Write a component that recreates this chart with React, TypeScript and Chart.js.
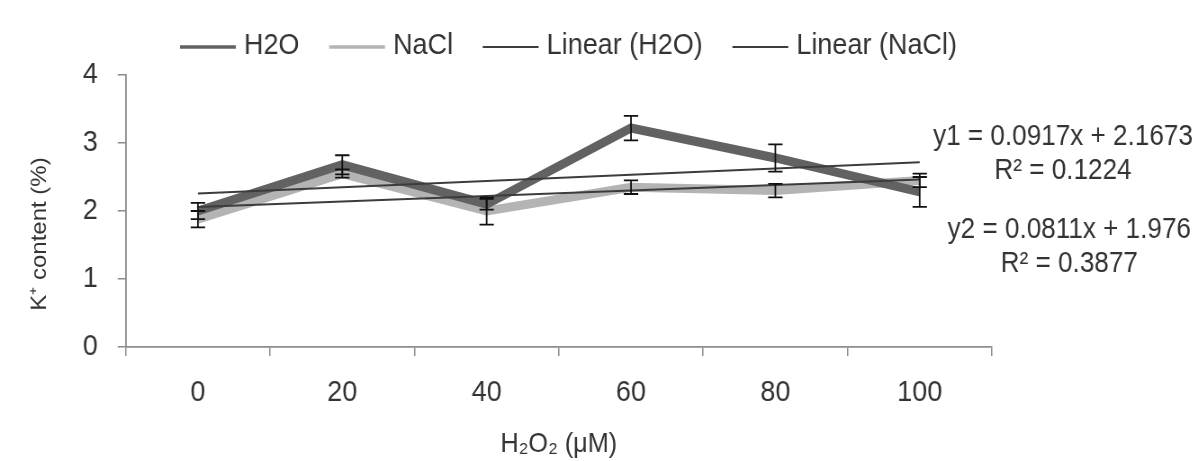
import React, { useEffect, useRef } from "react";
import { Chart, registerables } from "chart.js";

Chart.register(...registerables);

const categories = ["0", "20", "40", "60", "80", "100"];
const h2oValues = [2.0, 2.68, 2.1, 3.22, 2.78, 2.28];
const naclValues = [1.88, 2.55, 2.0, 2.35, 2.3, 2.45];
const h2oErrors = [0.12, 0.14, 0.08, 0.18, 0.2, 0.22];
const naclErrors = [0.12, 0.06, 0.2, 0.1, 0.1, 0.1];
const h2oSlope = 0.0917;
const h2oIntercept = 2.1673;
const naclSlope = 0.0811;
const naclIntercept = 1.976;
const equationLines = ["y1 = 0.0917x + 2.1673", "R² = 0.1224", "y2 = 0.0811x + 1.976", "R² = 0.3877"];
const yTitle = "K⁺ content (%)";
const xTitle = "H₂O₂ (μM)";

// Drawn on a wider canvas and squeezed horizontally by CSS, which gives the
// narrow lettering of the original.
const SQUEEZE = 0.9;
const CSS_W = 1198;
const CSS_H = 461;
const CANVAS_W = Math.round(CSS_W / SQUEEZE);

const FONT = '"Liberation Sans", Arial, sans-serif';
const TEXT = "#333333";

const h2oTrend = categories.map((_, i) => h2oSlope * (i + 1) + h2oIntercept);
const naclTrend = categories.map((_, i) => naclSlope * (i + 1) + naclIntercept);

const errorBarPlugin = {
  id: "errorBars",
  afterDatasetsDraw(chart: any) {
    const ctx = chart.ctx;
    const x = chart.scales.x;
    const y = chart.scales.y;
    const sets = [
      { v: naclValues, e: naclErrors },
      { v: h2oValues, e: h2oErrors },
    ];
    ctx.save();
    ctx.strokeStyle = "#111111";
    ctx.lineWidth = 1.8;
    const cap = 8;
    sets.forEach((s) => {
      s.v.forEach((val, i) => {
        const px = x.getPixelForValue(i);
        const top = y.getPixelForValue(val + s.e[i]);
        const bot = y.getPixelForValue(val - s.e[i]);
        ctx.beginPath();
        ctx.moveTo(px, top);
        ctx.lineTo(px, bot);
        ctx.moveTo(px - cap, top);
        ctx.lineTo(px + cap, top);
        ctx.moveTo(px - cap, bot);
        ctx.lineTo(px + cap, bot);
        ctx.stroke();
      });
    });
    ctx.restore();
  },
};

const textPlugin = {
  id: "texts",
  afterDraw(chart: any) {
    const ctx = chart.ctx;
    const r = chart.chartArea.right;
    const spots = [
      { dx: 79, y: 137 },
      { dx: 79, y: 171 },
      { dx: 86, y: 230 },
      { dx: 86, y: 264 },
    ];
    ctx.save();
    ctx.fillStyle = TEXT;
    ctx.font = `29px ${FONT}`;
    ctx.textAlign = "center";
    ctx.textBaseline = "middle";
    equationLines.forEach((t, i) => {
      ctx.fillText(t, r + spots[i].dx, spots[i].y);
    });
    // y axis title
    ctx.translate(44, 234);
    ctx.rotate(-Math.PI / 2);
    ctx.font = `24px ${FONT}`;
    ctx.fillText(yTitle, 0, 0);
    ctx.restore();
  },
};

const legendPlugin = {
  id: "customLegend",
  afterDraw(chart: any) {
    const ctx = chart.ctx;
    const sets = chart.data.datasets;
    let x = 200;
    const yLine = 47;
    const lineLen = 62;
    const gapText = 9;
    const gapItem = 33;
    ctx.save();
    ctx.font = `30px ${FONT}`;
    ctx.textBaseline = "middle";
    ctx.textAlign = "left";
    sets.forEach((ds: any, i: number) => {
      ctx.strokeStyle = ds.borderColor;
      ctx.lineWidth = i < 2 ? 3.5 : 2.2;
      ctx.beginPath();
      ctx.moveTo(x, yLine);
      ctx.lineTo(x + lineLen, yLine);
      ctx.stroke();
      const tx = x + lineLen + gapText;
      ctx.fillStyle = TEXT;
      ctx.fillText(ds.label, tx, yLine - 1);
      x = tx + ctx.measureText(ds.label).width + gapItem;
    });
    ctx.restore();
  },
};

export default function App() {
  const ref = useRef<HTMLCanvasElement | null>(null);
  useEffect(() => {
    if (!ref.current) return;
    const chart = new Chart(ref.current, {
      type: "line",
      data: {
        labels: categories,
        datasets: [
          {
            label: "H2O",
            data: h2oValues,
            borderColor: "#626262",
            backgroundColor: "#626262",
            borderWidth: 9,
            pointRadius: 0,
            tension: 0,
            order: 3,
          },
          {
            label: "NaCl",
            data: naclValues,
            borderColor: "#b4b4b4",
            backgroundColor: "#b4b4b4",
            borderWidth: 9,
            pointRadius: 0,
            tension: 0,
            order: 4,
          },
          {
            label: "Linear (H2O)",
            data: h2oTrend,
            borderColor: "#3c3c3c",
            backgroundColor: "#3c3c3c",
            borderWidth: 2,
            pointRadius: 0,
            tension: 0,
            order: 1,
          },
          {
            label: "Linear (NaCl)",
            data: naclTrend,
            borderColor: "#3c3c3c",
            backgroundColor: "#3c3c3c",
            borderWidth: 2,
            pointRadius: 0,
            tension: 0,
            order: 2,
          },
        ],
      },
      options: {
        animation: false,
        responsive: false,
        maintainAspectRatio: false,
        layout: { padding: { left: 70, right: CANVAS_W - Math.round(992 / SQUEEZE), top: 75, bottom: 3 } },
        plugins: {
          legend: { display: false },
          tooltip: { enabled: false },
        },
        scales: {
          x: {
            offset: true,
            grid: {
              offset: true,
              drawOnChartArea: false,
              tickLength: 9,
              color: "#8c8c8c",
              lineWidth: 1.5,
            },
            border: { color: "#8c8c8c", width: 1.8 },
            ticks: { color: TEXT, font: { family: FONT, size: 30, lineHeight: 1 }, padding: 22 },
            title: {
              display: true,
              text: xTitle,
              color: TEXT,
              font: { family: FONT, size: 28, lineHeight: 1 },
              padding: { top: 0, bottom: 0 },
            },
          },
          y: {
            min: 0,
            max: 4,
            ticks: { stepSize: 1, color: TEXT, font: { family: FONT, size: 30 }, padding: 22 },
            grid: { drawOnChartArea: false, tickLength: 9, color: "#8c8c8c", lineWidth: 1.5 },
            border: { color: "#8c8c8c", width: 1.8 },
          },
        },
      },
      plugins: [errorBarPlugin, textPlugin, legendPlugin],
    });
    return () => chart.destroy();
  }, []);
  return (
    <div>
      <canvas
        ref={ref}
        width={CANVAS_W}
        height={CSS_H}
        style={{ position: "absolute", left: 0, top: 0, width: `${CSS_W}px`, height: `${CSS_H}px`, display: "block" }}
      />
    </div>
  );
}
